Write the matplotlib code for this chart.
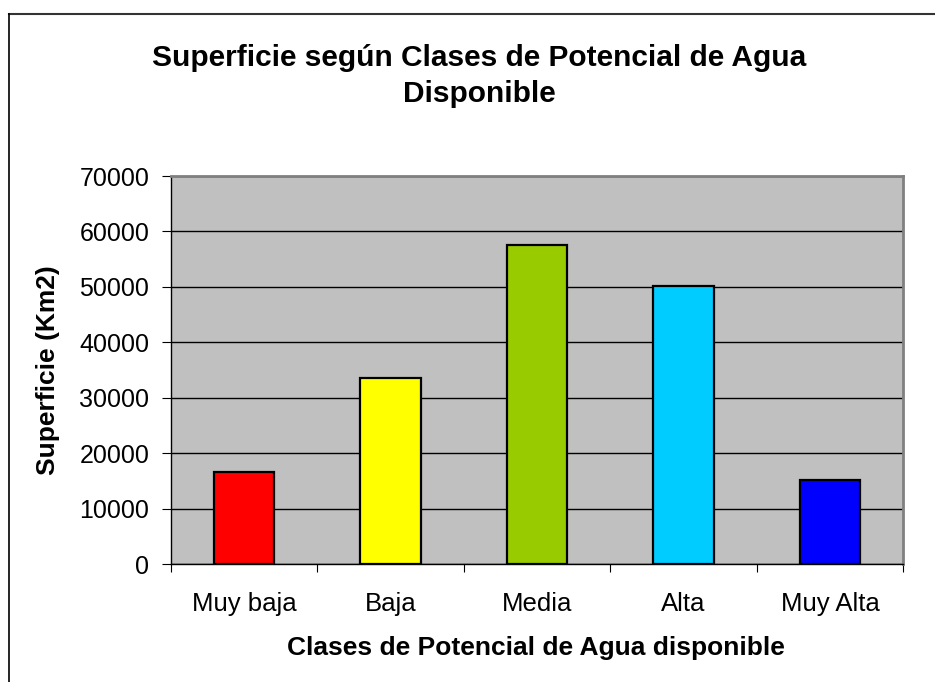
import matplotlib
matplotlib.use('Agg')
from matplotlib import pyplot as plt
from matplotlib.lines import Line2D
from matplotlib.ticker import FixedLocator, NullFormatter

categories = ['Muy baja', 'Baja', 'Media', 'Alta', 'Muy Alta']
superficie = [16600, 33500, 57600, 50200, 15200]
bar_colors = ['#FF0000', '#FFFF00', '#99CC00', '#00CCFF', '#0000FF']
y_ticks = [0, 10000, 20000, 30000, 40000, 50000, 60000, 70000]

plt.rcParams['font.family'] = ['Liberation Sans', 'DejaVu Sans']

W, H = 935, 682
fig = plt.figure(figsize=(W / 100, H / 100), dpi=100)
fig.patch.set_facecolor('white')

# plot area in pixels
left, right, top, bottom = 170.7, 903.3, 176.0, 564.3
ax = fig.add_axes([left / W, 1 - bottom / H, (right - left) / W, (bottom - top) / H])
ax.set_facecolor('#C0C0C0')

x = list(range(len(categories)))
ax.bar(x, superficie, width=0.415, color=bar_colors, edgecolor='black', linewidth=1.6, zorder=3)

ax.set_xlim(-0.5, len(categories) - 0.5)
ax.set_ylim(0, 70000)
ax.set_yticks(y_ticks)
ax.set_yticklabels([str(v) for v in y_ticks], fontsize=18)
ax.yaxis.grid(True, color='black', linewidth=1.0, zorder=1)
ax.tick_params(axis='y', direction='out', length=6.5, width=0.8, color='black', pad=9)

# category boundary ticks, labels at the centres
ax.xaxis.set_major_locator(FixedLocator([i - 0.5 for i in range(len(categories) + 1)]))
ax.xaxis.set_major_formatter(NullFormatter())
ax.xaxis.set_minor_locator(FixedLocator(x))
ax.set_xticklabels(categories, minor=True, fontsize=18.5)
ax.tick_params(axis='x', which='major', direction='out', length=6, width=0.8, color='black')
ax.tick_params(axis='x', which='minor', length=0, pad=20)

for side in ['top', 'right']:
    ax.spines[side].set_color('#808080')
    ax.spines[side].set_linewidth(2)
for side in ['left', 'bottom']:
    ax.spines[side].set_color('black')
    ax.spines[side].set_linewidth(1)

fig.text(479 / W, 1 - 76 / H, 'Superficie según Clases de Potencial de Agua\nDisponible',
         ha='center', va='center', fontsize=21.5, fontweight='bold', linespacing=1.4)
fig.text(48 / W, 1 - 370 / H, 'Superficie (Km2)', rotation=90, ha='center', va='center',
         fontsize=19, fontweight='bold')
fig.text(536 / W, 1 - 648 / H, 'Clases de Potencial de Agua disponible', ha='center', va='center',
         fontsize=19, fontweight='bold')

# chart area frame (only top and left edges visible)
fig.add_artist(Line2D([9 / W, 1], [1 - 13.5 / H, 1 - 13.5 / H], transform=fig.transFigure,
                      color='#333333', linewidth=1.5))
fig.add_artist(Line2D([9 / W, 9 / W], [0, 1 - 13.5 / H], transform=fig.transFigure,
                      color='black', linewidth=1.2))

fig.savefig('out.png', dpi=100)
